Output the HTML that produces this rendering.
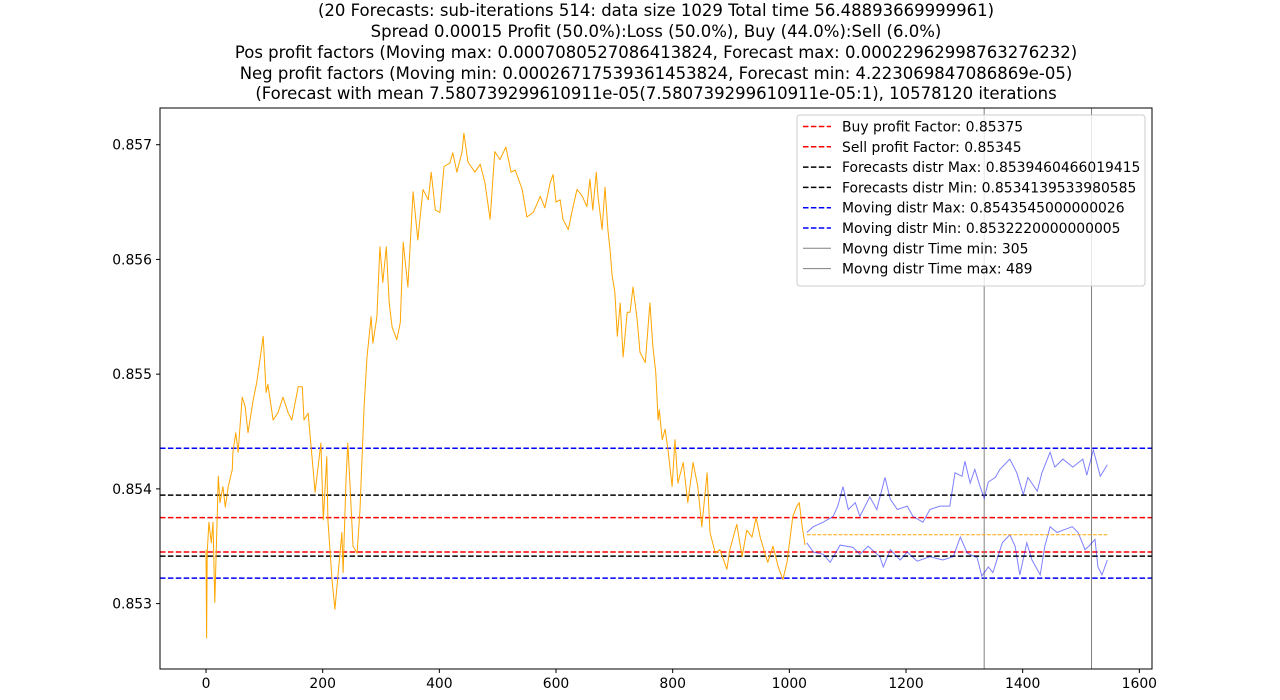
<!DOCTYPE html>
<html><head><meta charset="utf-8"><style>
body{margin:0;background:#fff;}
svg text{font-family:"DejaVu Sans","Liberation Sans",sans-serif;}
</style></head><body>
<svg id="chart" width="1280" height="695" xmlns="http://www.w3.org/2000/svg">
<rect width="1280" height="695" fill="#fff"/>
<g font-size="16.5" text-anchor="middle" fill="#000">
<text x="656" y="16">(20 Forecasts: sub-iterations 514: data size 1029 Total time 56.48893669999961)</text>
<text x="656" y="37">Spread 0.00015 Profit (50.0%):Loss (50.0%), Buy (44.0%):Sell (6.0%)</text>
<text x="656" y="58">Pos profit factors (Moving max: 0.0007080527086413824, Forecast max: 0.00022962998763276232)</text>
<text x="656" y="79">Neg profit factors (Moving min: 0.00026717539361453824, Forecast min: 4.223069847086869e-05)</text>
<text x="656" y="99">(Forecast with mean 7.580739299610911e-05(7.580739299610911e-05:1), 10578120 iterations</text>
</g>
<defs><clipPath id="pc"><rect x="160" y="108" width="992" height="561"/></clipPath></defs>
<g id="plot" clip-path="url(#pc)"></g>
<rect x="160" y="108" width="992" height="561" fill="none" stroke="#000" stroke-width="1"/>
<g id="axes"></g>
<g id="legend"></g>
</svg>
<script>
const histX=[0,1,2,5,9,12,15,19,21,24,29,33,38,45,46,51,55,62,67,72,81,87,93,98,103,106,115,123,132,141,147,158,165,168,175,182,187,197,201,207,209,216,221,226,233,235,240,243,247,252,259,264,271,276,283,286,293,298,303,309,314,319,327,333,338,346,355,363,372,381,386,393,401,408,418,423,430,439,442,449,461,470,478,487,495,504,514,523,530,542,550,561,573,581,590,595,600,607,612,621,627,636,645,653,658,663,669,672,679,684,689,693,696,701,705,710,715,722,727,732,739,744,753,761,766,771,775,777,782,787,792,799,804,809,818,826,835,843,850,859,864,873,881,893,898,910,919,927,936,943,950,958,963,972,981,989,996,1006,1013,1017,1022,1027];
const histY=[0.85347,0.85270,0.85344,0.85371,0.85353,0.85371,0.85301,0.85373,0.85411,0.85388,0.85402,0.85384,0.85402,0.85417,0.85432,0.85449,0.85432,0.85480,0.85472,0.85449,0.85478,0.85493,0.85515,0.85533,0.85484,0.85491,0.85460,0.85466,0.85480,0.85466,0.85460,0.85489,0.85489,0.85460,0.85466,0.85426,0.85397,0.85440,0.85373,0.85428,0.85373,0.85321,0.85295,0.85324,0.85362,0.85327,0.85408,0.85440,0.85402,0.85350,0.85344,0.85382,0.85472,0.85515,0.85550,0.85527,0.85550,0.85611,0.85580,0.85611,0.85562,0.85541,0.85530,0.85545,0.85615,0.85576,0.85659,0.85617,0.85661,0.85652,0.85676,0.85643,0.85641,0.85681,0.85684,0.85693,0.85676,0.85694,0.85710,0.85685,0.85676,0.85683,0.85667,0.85635,0.85694,0.85687,0.85698,0.85676,0.85678,0.85661,0.85637,0.85641,0.85655,0.85645,0.85667,0.85674,0.85650,0.85652,0.85635,0.85626,0.85641,0.85661,0.85655,0.85646,0.85670,0.85643,0.85676,0.85655,0.85626,0.85663,0.85626,0.85606,0.85587,0.85571,0.85533,0.85562,0.85515,0.85554,0.85554,0.85576,0.85548,0.85519,0.85510,0.85562,0.85524,0.85501,0.85460,0.85469,0.85443,0.85452,0.85434,0.85402,0.85443,0.85405,0.85423,0.85388,0.85423,0.85402,0.85367,0.85414,0.85362,0.85344,0.85347,0.85330,0.85347,0.85369,0.85341,0.85364,0.85358,0.85375,0.85358,0.85344,0.85336,0.85350,0.85332,0.85321,0.85336,0.85376,0.85385,0.85388,0.85367,0.85351];
const upX=[1030,1041,1058,1075,1083,1092,1101,1113,1121,1138,1150,1164,1173,1185,1202,1212,1229,1241,1258,1275,1284,1296,1301,1310,1318,1327,1334,1341,1353,1361,1378,1390,1401,1409,1425,1433,1447,1455,1469,1486,1503,1510,1521,1533,1545];
const upY=[0.85362,0.85367,0.85371,0.85376,0.85385,0.85402,0.85382,0.85388,0.85376,0.85393,0.85382,0.85410,0.85391,0.85382,0.85385,0.85376,0.85371,0.85382,0.85385,0.85385,0.85414,0.85411,0.85424,0.85405,0.85417,0.85402,0.85392,0.85406,0.85410,0.85417,0.85426,0.85414,0.85395,0.85410,0.85398,0.85414,0.85432,0.85419,0.85426,0.85419,0.85426,0.85412,0.85434,0.85411,0.85421];
const loX=[1030,1041,1058,1070,1087,1109,1121,1135,1155,1161,1173,1190,1202,1219,1241,1263,1281,1293,1305,1322,1330,1341,1349,1365,1378,1387,1395,1407,1416,1430,1438,1447,1459,1469,1485,1495,1507,1515,1524,1529,1536,1545];
const loY=[0.85353,0.85345,0.85343,0.85336,0.85351,0.85349,0.85343,0.85350,0.85341,0.85332,0.85347,0.85338,0.85345,0.85337,0.85341,0.85338,0.85341,0.85358,0.85344,0.85340,0.85324,0.85332,0.85327,0.85353,0.85360,0.85350,0.85325,0.85353,0.85338,0.85325,0.85350,0.85367,0.85362,0.85364,0.85367,0.85362,0.85347,0.85351,0.85356,0.85332,0.85325,0.85338];
const meanLine=[1030,1545,0.85360];
const hLabels=["Buy profit Factor: 0.85375","Sell profit Factor: 0.85345","Forecasts distr Max: 0.8539460466019415","Forecasts distr Min: 0.8534139533980585","Moving distr Max: 0.8543545000000026","Moving distr Min: 0.8532220000000005"];
const hValues=[0.85375,0.85345,0.8539460466019415,0.8534139533980585,0.8543545000000026,0.8532220000000005];
const hColors=["red","red","black","black","blue","blue"];
const vLabels=["Movng distr Time min: 305","Movng distr Time max: 489"];
const vValues=[1029+305,1029+489];
const xTicks=[0,200,400,600,800,1000,1200,1400,1600];
const yTicks=[0.853,0.854,0.855,0.856,0.857];

const NS="http://www.w3.org/2000/svg";
const X0=160,X1=1152,Y0=108,Y1=669;
const xMin=-78.9,xMax=1621.7,yMin=0.85243,yMax=0.85732;
function sx(v){return X0+(v-xMin)/(xMax-xMin)*(X1-X0);}
function sy(v){return Y1-(v-yMin)/(yMax-yMin)*(Y1-Y0);}
function mk(tag,attrs,parent){const e=document.createElementNS(NS,tag);for(const k in attrs)e.setAttribute(k,attrs[k]);parent.appendChild(e);return e;}
const plot=document.getElementById('plot'),axes=document.getElementById('axes'),leg=document.getElementById('legend');

hValues.forEach((v,i)=>{
 const l=mk('line',{x1:X0,x2:X1,y1:sy(v),y2:sy(v),stroke:hColors[i],'stroke-width':1.5,'stroke-dasharray':'5.5,2.4'},plot);
 
 
});
vValues.forEach((v,i)=>{
 const l=mk('line',{x1:sx(v),x2:sx(v),y1:Y0,y2:Y1,stroke:'#808080','stroke-width':1},plot);
 
 
});
function poly(xs,ys,attrs,name){
 const p=mk('polyline',Object.assign({points:xs.map((x,i)=>sx(x).toFixed(1)+','+sy(ys[i]).toFixed(1)).join(' '),fill:'none'},attrs),plot);
 
 
}
poly(histX,histY,{stroke:'orange','stroke-width':1,'stroke-linejoin':'round'},'history-series');
poly(upX,upY,{stroke:'#0000ff','stroke-opacity':0.5,'stroke-width':1},'forecast-upper-series');
poly(loX,loY,{stroke:'#0000ff','stroke-opacity':0.5,'stroke-width':1},'forecast-lower-series');
const ml=mk('line',{x1:sx(meanLine[0]),x2:sx(meanLine[1]),y1:sy(meanLine[2]),y2:sy(meanLine[2]),stroke:'orange','stroke-width':1,'stroke-dasharray':'3.7,1.6'},plot);



xTicks.forEach(t=>{
 const x=sx(t);
 mk('line',{x1:x,x2:x,y1:Y1,y2:Y1+4,stroke:'#000'},axes);
 const tx=mk('text',{x:x,y:Y1+19,'font-size':13.9,'text-anchor':'middle'},axes);
 tx.textContent=t;
 
 
});
yTicks.forEach(t=>{
 const y=sy(t);
 mk('line',{x1:X0-4,x2:X0,y1:y,y2:y,stroke:'#000'},axes);
 const tx=mk('text',{x:X0-8,y:y+5,'font-size':13.9,'text-anchor':'end'},axes);
 tx.textContent=t.toFixed(3);
 
 
});

mk('rect',{x:797,y:115,width:348,height:171,rx:3,fill:'#fff','fill-opacity':0.8,stroke:'#ccc'},leg);
const allLabels=hLabels.concat(vLabels);
allLabels.forEach((lab,i)=>{
 const y=126.5+i*20.3;
 const isV=i>=hLabels.length;
 const ln=mk('line',{x1:803,x2:831,y1:y,y2:y,stroke:isV?'#808080':hColors[i],'stroke-width':isV?1:1.5},leg);
 if(!isV)ln.setAttribute('stroke-dasharray','5.5,2.4');
 const tx=mk('text',{x:842,y:y+5,'font-size':13.9},leg);
 tx.textContent=lab;
 
 
});
</script>
</body></html>
